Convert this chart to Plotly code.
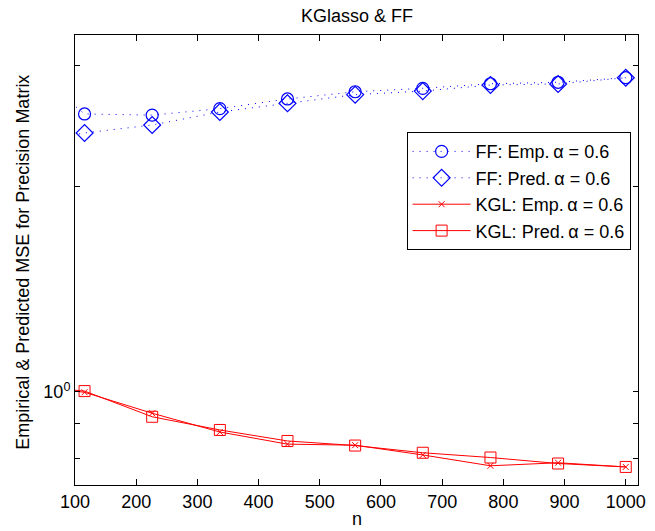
import plotly.graph_objects as go

# Sample sizes (first point lies left of the visible x-range)
n_values = [5, 115.6, 226.1, 336.7, 447.2, 557.8, 668.3, 778.9, 889.4, 1000]

ff_emp = [3.08, 2.55, 2.54, 2.596, 2.682, 2.748, 2.780, 2.823, 2.837, 2.881]
ff_pred = [2.30, 2.392, 2.457, 2.567, 2.643, 2.721, 2.754, 2.811, 2.821, 2.881]
kgl_emp = [1.025, 0.999, 0.931, 0.874, 0.839, 0.836, 0.809, 0.780, 0.788, 0.777]
kgl_pred = [1.024, 1.003, 0.920, 0.880, 0.848, 0.835, 0.815, 0.802, 0.786, 0.777]

x_ticks = [100, 200, 300, 400, 500, 600, 700, 800, 900, 1000]
y_major_ticks = [1]
y_major_text = ["10<sup>0</sup>"]
y_minor_ticks = [0.8, 0.9, 2, 3]

FONT = "Liberation Sans, Arial, Helvetica, sans-serif"
FS = 18

fig = go.Figure()
fig.add_trace(go.Scatter(
    x=n_values, y=ff_emp, mode="lines+markers", name="FF: Emp.\u2009α = 0.6",
    line=dict(color="blue", width=1, dash="1px,6px"),
    marker=dict(symbol="circle-open", size=12, color="blue", line=dict(width=1.2))))
fig.add_trace(go.Scatter(
    x=n_values, y=ff_pred, mode="lines+markers", name="FF: Pred.\u2009α = 0.6",
    line=dict(color="blue", width=1, dash="1px,6px"),
    marker=dict(symbol="diamond-open", size=13, color="blue", line=dict(width=1.2))))
fig.add_trace(go.Scatter(
    x=n_values, y=kgl_emp, mode="lines+markers", name="KGL: Emp.\u2009α = 0.6",
    line=dict(color="red", width=1),
    marker=dict(symbol="x-thin-open", size=6, color="red", line=dict(width=1, color="red"))))
fig.add_trace(go.Scatter(
    x=n_values, y=kgl_pred, mode="lines+markers", name="KGL: Pred.\u2009α = 0.6",
    line=dict(color="red", width=1),
    marker=dict(symbol="square-open", size=11, color="red", line=dict(width=1))))

fig.update_layout(
    width=655, height=531,
    margin=dict(l=75, r=9, t=35, b=46),
    paper_bgcolor="white", plot_bgcolor="white",
    font=dict(family=FONT, size=FS, color="black"),
    showlegend=True,
    legend=dict(x=0.589, y=0.784, xanchor="left", yanchor="top",
                bordercolor="black", borderwidth=1, bgcolor="white",
                font=dict(family=FONT, size=FS, color="black"),
                itemwidth=58, tracegroupgap=0),
    xaxis=dict(range=[100, 1020], tickvals=x_ticks, ticks="inside", ticklen=6,
               tickcolor="black", showline=True, linecolor="black", linewidth=1,
               mirror="ticks", showgrid=False, zeroline=False,
               tickfont=dict(family=FONT, size=FS, color="black")),
    yaxis=dict(type="log", range=[-0.136, 0.522], tickvals=y_major_ticks,
               ticktext=y_major_text, ticks="inside", ticklen=5, tickcolor="black",
               showline=True, linecolor="black", linewidth=1, mirror="ticks",
               showgrid=False, zeroline=False,
               minor=dict(tickvals=y_minor_ticks, ticks="inside", ticklen=5,
                          tickcolor="black", showgrid=False),
               tickfont=dict(family=FONT, size=FS, color="black")),
    annotations=[
        dict(text="KGlasso & FF", xref="paper", yref="paper", x=0.5, y=1.042,
             xanchor="center", yanchor="middle", showarrow=False,
             font=dict(family=FONT, size=FS, color="black")),
        dict(text="n", xref="paper", yref="paper", x=0.5, y=-0.0756,
             xanchor="center", yanchor="middle", showarrow=False,
             font=dict(family=FONT, size=FS, color="black")),
        dict(text="Empirical & Predicted MSE for Precision Matrix", xref="paper",
             yref="paper", x=-0.0928, y=0.4956, xanchor="center", yanchor="middle",
             textangle=-90, showarrow=False,
             font=dict(family=FONT, size=FS, color="black")),
    ],
)

fig.write_html("out.html", config={"displayModeBar": False},
               post_script="document.body.style.margin='0';document.body.style.padding='0';")
